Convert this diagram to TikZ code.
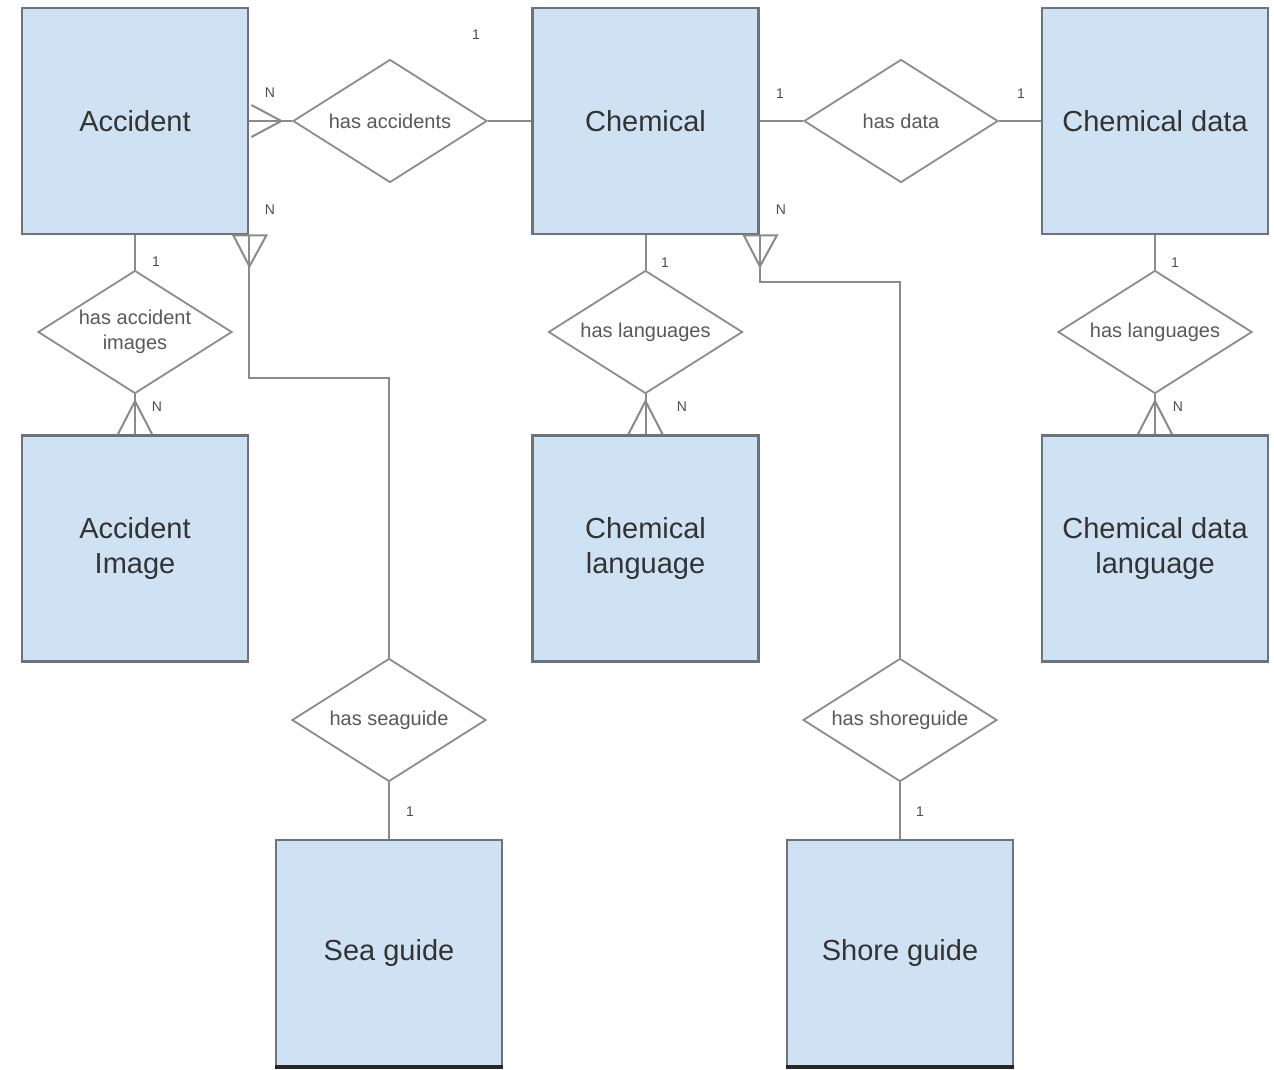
\documentclass[tikz,border=0pt]{standalone}
\usepackage{xcolor}
\usepackage{fontspec}
\setmainfont{Liberation Sans}
\usetikzlibrary{shapes.geometric,calc}

\definecolor{entfill}{HTML}{CFE2F3}
\definecolor{entline}{HTML}{6B737C}
\definecolor{relline}{HTML}{8C8C8C}
\definecolor{linkline}{HTML}{8A8A8A}

\begin{document}
\begin{tikzpicture}[x=.5pt,y=-.5pt,
    entity/.style={draw=entline, line width=1.4pt, fill=entfill, minimum width=113pt, minimum height=113pt, inner sep=0pt, align=center, text=black!80, font=\fontsize{14.5}{17.5}\selectfont},
    relation/.style={diamond, draw=relline, line width=.9pt, fill=white, aspect=1.58, minimum width=97pt, minimum height=61.5pt, inner sep=0pt, align=center, text=black!65, font=\fontsize{10}{12.5}\selectfont},
    link/.style={draw=linkline, line width=1pt},
    card/.style={inner sep=0pt, text=black!70, font=\fontsize{7}{8}\selectfont}]
             \useasboundingbox (0,0) rectangle (1274,1070);

             % entities
             \node[entity] (acc) at (135, 121) {Accident};
             \node[entity] (chem) at (645.5, 121) {Chemical};
             \node[entity] (chemdata) at (1155, 121) {Chemical data};
             \node[entity] (accimg) at (135, 548.5) {Accident\\Image};
             \node[entity] (chemlang) at (645.5, 548.5) {Chemical\\language};
             \node[entity] (datalang) at (1155, 548.5) {Chemical data\\language};
             \node[entity] (sea) at (389, 953) {Sea guide};
             \node[entity] (shore) at (900, 953) {Shore guide};
             \draw[line width=2pt, black!85] (sea.south west) -- (sea.south east);
             \draw[line width=2pt, black!85] (shore.south west) -- (shore.south east);

             % relations
             \node[relation] (hasacc) at (390, 121) {has accidents};
             \node[relation] (hasdata) at (901, 121) {has data};
             \node[relation] (hasimg) at (135, 332) {has accident\\images};
             \node[relation] (haslang) at (645.5, 332) {has languages};
             \node[relation] (hasdatalang) at (1155, 332) {has languages};
             \node[relation] (hassea) at (389, 720) {has seaguide};
             \node[relation] (hasshore) at (900, 720) {has shoreguide};

             % bends
             \coordinate (seabend) at (389, 378);
             \coordinate (shorebend) at (900, 282);

             % connectors
             \draw[link] (acc.east) -- (hasacc.west);
             \draw[link] ($(acc.east)+(2,-16)$) -- ($(acc.east)+(32,0)$) -- ($(acc.east)+(2,16)$);
             \draw[link] (hasacc.east) -- (chem.west);
             \draw[link] (chem.east) -- (hasdata.west);
             \draw[link] (hasdata.east) -- (chemdata.west);

             \draw[link] (acc.south) -- (hasimg.north);
             \draw[link] (hasimg.south) -- (accimg.north);
             \draw[link] ($(accimg.north)+(-17,0)$) -- ($(accimg.north)+(0,-33)$) -- ($(accimg.north)+(17,0)$);
             \draw[link] (chem.south) -- (haslang.north);
             \draw[link] (haslang.south) -- (chemlang.north);
             \draw[link] ($(chemlang.north)+(-17,0)$) -- ($(chemlang.north)+(0,-33)$) -- ($(chemlang.north)+(17,0)$);
             \draw[link] (chemdata.south) -- (hasdatalang.north);
             \draw[link] (hasdatalang.south) -- (datalang.north);
             \draw[link] ($(datalang.north)+(-17,0)$) -- ($(datalang.north)+(0,-33)$) -- ($(datalang.north)+(17,0)$);

             \draw[link] (acc.south east) |- (seabend) -- (hassea.north);
             \draw[link] ($(acc.south east)+(-16,0)$) -- ($(acc.south east)+(0,31)$) -- ($(acc.south east)+(17,0)$) -- cycle;
             \draw[link] (hassea.south) -- (sea.north);
             \draw[link] (chem.south east) |- (shorebend) -- (hasshore.north);
             \draw[link] ($(chem.south east)+(-16,0)$) -- ($(chem.south east)+(0,31)$) -- ($(chem.south east)+(17,0)$) -- cycle;
             \draw[link] (hasshore.south) -- (shore.north);

             % cardinalities
             \node[card] (n1) at (270, 93) {N};
             \node[card] (n2) at (270, 210) {N};
             \node[card] (c1) at (476, 35) {1};
             \node[card] (c2) at (780, 94) {1};
             \node[card] (c3) at (1021, 94) {1};
             \node[card] (n3) at (781, 210) {N};
             \node[card] (c4) at (156, 262) {1};
             \node[card] (n4) at (157, 407) {N};
             \node[card] (c5) at (665, 263) {1};
             \node[card] (n5) at (682, 407) {N};
             \node[card] (c6) at (1175, 263) {1};
             \node[card] (n6) at (1178, 407) {N};
             \node[card] (c7) at (410, 812) {1};
             \node[card] (c8) at (920, 812) {1};
             \end{tikzpicture}
\end{document}
